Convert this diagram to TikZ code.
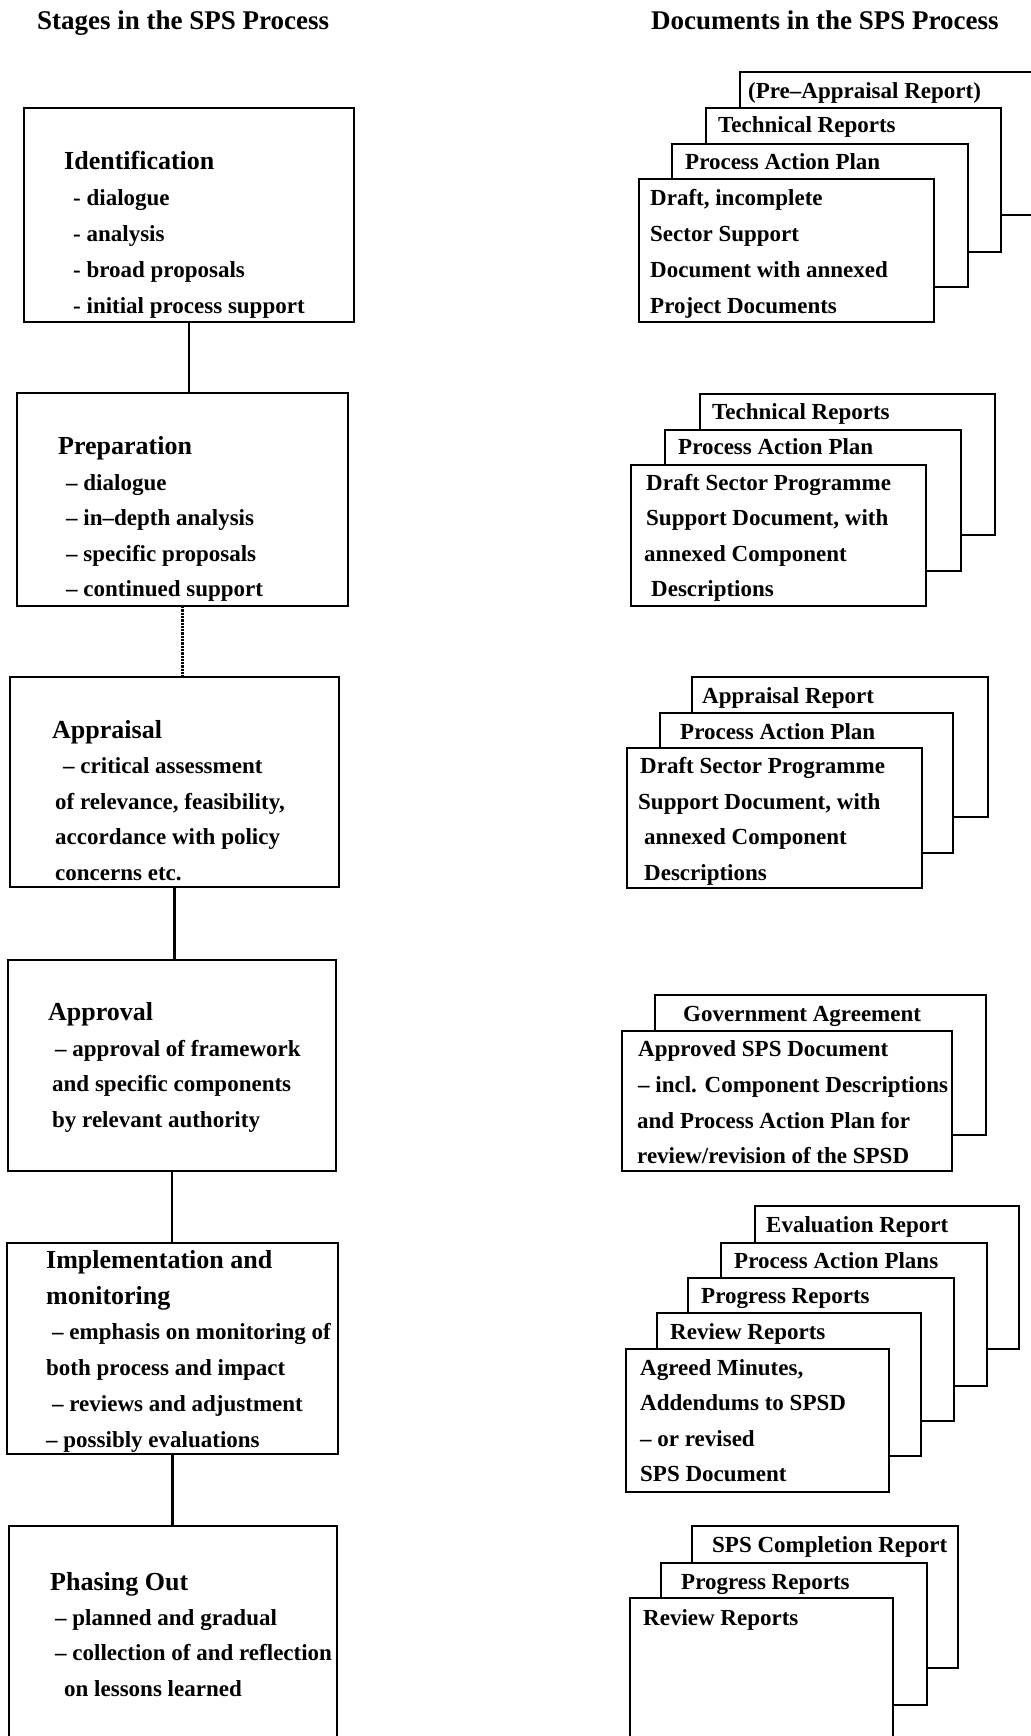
\documentclass[tikz,border=0pt]{standalone}
\usepackage{fontspec}
\setmainfont{Liberation Serif}
\begin{document}
\begin{tikzpicture}[x=1pt,y=-1pt,
  stagebox/.style={draw, rectangle, line width=2.3pt, fill=white, inner sep=0pt, outer sep=0pt, anchor=north west},
  card/.style={draw, rectangle, line width=2.2pt, fill=white, inner sep=0pt, outer sep=0pt, anchor=north west},
  link/.style={line width=2.3pt},
  heading/.style={anchor=base west, inner sep=0pt, font=\bfseries\fontsize{27}{32}\selectfont},
  stagetitle/.style={anchor=base west, inner sep=0pt, font=\bfseries\fontsize{26}{30}\selectfont},
  txt/.style={anchor=base west, inner sep=0pt, font=\bfseries\fontsize{23}{28}\selectfont},
]
\useasboundingbox (0,0) rectangle (1030,1736);

% column headings
\node[heading] (hstages) at (37,30) {Stages in the SPS Process};
\node[heading] (hdocs) at (651,30) {Documents in the SPS Process};

% ---------- stages ----------
\node[stagebox, minimum width=330pt, minimum height=214pt] (ident) at (24,108) {};
\node[stagebox, minimum width=331pt, minimum height=213pt] (prep)  at (17,393) {};
\node[stagebox, minimum width=329pt, minimum height=210pt] (appr)  at (10,677) {};
\node[stagebox, minimum width=328pt, minimum height=211pt] (apprv) at (8,960) {};
\node[stagebox, minimum width=331pt, minimum height=211pt] (impl)  at (7,1243) {};
\node[stagebox, minimum width=328pt, minimum height=230pt] (phase) at (9,1526) {};

\draw[link] (ident.south) -- (ident.south |- prep.north);
\draw[link, densely dotted] (prep.south) -- (prep.south |- appr.north);
\draw[link] (appr.south) -- (appr.south |- apprv.north);
\draw[link] (apprv.south) -- (apprv.south |- impl.north);
\draw[link] (impl.south) -- (impl.south |- phase.north);

\node[stagetitle] (ident-t) at (64,170) {Identification};
\node[txt] (ident-1) at (73,206) {- dialogue};
\node[txt] (ident-2) at (73,242) {- analysis};
\node[txt] (ident-3) at (73,277) {- broad proposals};
\node[txt] (ident-4) at (73,313) {- initial process support};

\node[stagetitle] (prep-t) at (58,454) {Preparation};
\node[txt] (prep-1) at (66,490) {– dialogue};
\node[txt] (prep-2) at (66,525) {– in–depth analysis};
\node[txt] (prep-3) at (66,561) {– specific proposals};
\node[txt] (prep-4) at (66,596) {– continued support};

\node[stagetitle] (appr-t) at (52,738) {Appraisal};
\node[txt] (appr-1) at (63,773) {– critical assessment};
\node[txt] (appr-2) at (55,809) {of relevance, feasibility,};
\node[txt] (appr-3) at (55,844) {accordance with policy};
\node[txt] (appr-4) at (55,880) {concerns etc.};

\node[stagetitle] (apprv-t) at (48,1020) {Approval};
\node[txt] (apprv-1) at (55,1056) {– approval of framework};
\node[txt] (apprv-2) at (52,1091) {and specific components};
\node[txt] (apprv-3) at (52,1127) {by relevant authority};

\node[stagetitle] (impl-t1) at (46,1268) {Implementation and};
\node[stagetitle] (impl-t2) at (46,1304) {monitoring};
\node[txt] (impl-1) at (52,1339) {– emphasis on monitoring of};
\node[txt] (impl-2) at (46,1375) {both process and impact};
\node[txt] (impl-3) at (52,1411) {– reviews and adjustment};
\node[txt] (impl-4) at (46,1447) {– possibly evaluations};

\node[stagetitle] (phase-t) at (50,1590) {Phasing Out};
\node[txt] (phase-1) at (55,1625) {– planned and gradual};
\node[txt] (phase-2) at (55,1660) {– collection of and reflection};
\node[txt] (phase-3) at (64,1696) {on lessons learned};

% ---------- document stacks (drawn back to front) ----------
% identification
\node[card, minimum width=295pt, minimum height=143pt] (d1d) at (740,72) {};
\node[txt] (d1d-t) at (748,99) {(Pre–Appraisal Report)};
\node[card, minimum width=295pt, minimum height=144pt] (d1c) at (706,108) {};
\node[txt] (d1c-t) at (718,133) {Technical Reports};
\node[card, minimum width=296pt, minimum height=143pt] (d1b) at (672,144) {};
\node[txt] (d1b-t) at (685,170) {Process Action Plan};
\node[card, minimum width=295pt, minimum height=143pt] (d1a) at (639,179) {};
\node[txt] (d1a-1) at (650,206) {Draft, incomplete};
\node[txt] (d1a-2) at (650,242) {Sector Support};
\node[txt] (d1a-3) at (650,277) {Document with annexed};
\node[txt] (d1a-4) at (650,313) {Project Documents};

% preparation
\node[card, minimum width=295pt, minimum height=141pt] (d2c) at (700,394) {};
\node[txt] (d2c-t) at (712,419) {Technical Reports};
\node[card, minimum width=296pt, minimum height=141pt] (d2b) at (665,430) {};
\node[txt] (d2b-t) at (678,454) {Process Action Plan};
\node[card, minimum width=295pt, minimum height=141pt] (d2a) at (631,465) {};
\node[txt] (d2a-1) at (646,490) {Draft Sector Programme};
\node[txt] (d2a-2) at (646,525) {Support Document, with};
\node[txt] (d2a-3) at (644,561) {annexed Component};
\node[txt] (d2a-4) at (651,596) {Descriptions};

% appraisal
\node[card, minimum width=296pt, minimum height=140pt] (d3c) at (692,677) {};
\node[txt] (d3c-t) at (702,703) {Appraisal Report};
\node[card, minimum width=293pt, minimum height=140pt] (d3b) at (660,713) {};
\node[txt] (d3b-t) at (680,739) {Process Action Plan};
\node[card, minimum width=295pt, minimum height=140pt] (d3a) at (627,748) {};
\node[txt] (d3a-1) at (640,773) {Draft Sector Programme};
\node[txt] (d3a-2) at (638,809) {Support Document, with};
\node[txt] (d3a-3) at (644,844) {annexed Component};
\node[txt] (d3a-4) at (644,880) {Descriptions};

% approval
\node[card, minimum width=331pt, minimum height=140pt] (d4b) at (655,995) {};
\node[txt] (d4b-t) at (683,1021) {Government Agreement};
\node[card, minimum width=330pt, minimum height=140pt] (d4a) at (622,1031) {};
\node[txt] (d4a-1) at (638,1056) {Approved SPS Document};
\node[txt] (d4a-2) at (638,1092) {– incl. Component Descriptions};
\node[txt] (d4a-3) at (637,1128) {and Process Action Plan for};
\node[txt] (d4a-4) at (637,1163) {review/revision of the SPSD};

% implementation and monitoring
\node[card, minimum width=264pt, minimum height=143pt] (d5e) at (755,1206) {};
\node[txt] (d5e-t) at (766,1232) {Evaluation Report};
\node[card, minimum width=266pt, minimum height=143pt] (d5d) at (721,1243) {};
\node[txt] (d5d-t) at (734,1268) {Process Action Plans};
\node[card, minimum width=266pt, minimum height=143pt] (d5c) at (688,1278) {};
\node[txt] (d5c-t) at (701,1303) {Progress Reports};
\node[card, minimum width=264pt, minimum height=143pt] (d5b) at (657,1313) {};
\node[txt] (d5b-t) at (670,1339) {Review Reports};
\node[card, minimum width=263pt, minimum height=143pt] (d5a) at (626,1349) {};
\node[txt] (d5a-1) at (640,1375) {Agreed Minutes,};
\node[txt] (d5a-2) at (640,1410) {Addendums to SPSD};
\node[txt] (d5a-3) at (640,1446) {– or revised};
\node[txt] (d5a-4) at (640,1481) {SPS Document};

% phasing out
\node[card, minimum width=266pt, minimum height=142pt] (d6c) at (692,1526) {};
\node[txt] (d6c-t) at (712,1552) {SPS Completion Report};
\node[card, minimum width=266pt, minimum height=142pt] (d6b) at (661,1563) {};
\node[txt] (d6b-t) at (681,1589) {Progress Reports};
\node[card, minimum width=263pt, minimum height=160pt] (d6a) at (630,1598) {};
\node[txt] (d6a-1) at (643,1625) {Review Reports};

\end{tikzpicture}
\end{document}
